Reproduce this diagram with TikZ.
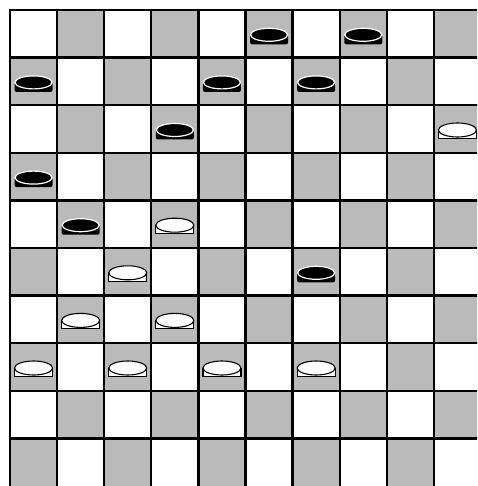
\documentclass[tikz,border=0pt]{standalone}
\begin{document}
\begin{tikzpicture}[x=1pt,y=-1pt,
  sq/.style={fill=black!27},
  gridline/.style={line width=2.3pt,black},
  bpc/.pic={
    \fill[black,rounded corners=2pt] (-19,1) -- (-19,10.5) -- (19,10.5) -- (19,1) -- cycle;
    \filldraw[fill=black,draw=white,line width=1.2pt] (0,1) ellipse [x radius=18.5,y radius=6.5];
  },
  wpc/.pic={
    \filldraw[fill=white,draw=black,line width=1.1pt] (-19,1) -- (-19,9.5) -- (19,9.5) -- (19,1);
    \filldraw[fill=white,draw=black,line width=1.1pt] (0,1) ellipse [x radius=19,y radius=7];
  }
]
\useasboundingbox (0,0) rectangle (477,486);
\fill[white] (0,0) rectangle (477,486);
\begin{scope}
\clip (0,0) rectangle (477,486);
\foreach \r in {0,...,9}{
  \foreach \c in {0,...,9}{
    \pgfmathtruncatemacro\p{mod(\r+\c,2)}
    \ifnum\p=1
      \fill[sq] ({10+\c*47.1},{10+\r*47.6}) rectangle ++(47.1,47.6);
    \fi
  }
}
\foreach \i in {0,...,10}{
  \draw[gridline] ({10+\i*47.1},{10-1.15}) -- ({10+\i*47.1},490);
}
\foreach \i in {0,...,9}{
  \draw[gridline] ({10-1.15},{10+\i*47.6}) -- (480,{10+\i*47.6});
}
\foreach \c/\r in {5/0,7/0,0/1,4/1,6/1,3/2,0/3,1/4,6/5}{
  \pic at ({10+(\c+0.5)*47.1},{10+(\r+0.5)*47.6}) {bpc};
}
\foreach \c/\r in {9/2,3/4,2/5,1/6,3/6,0/7,2/7,4/7,6/7}{
  \pic at ({10+(\c+0.5)*47.1},{10+(\r+0.5)*47.6}) {wpc};
}
\end{scope}
\end{tikzpicture}
\end{document}
